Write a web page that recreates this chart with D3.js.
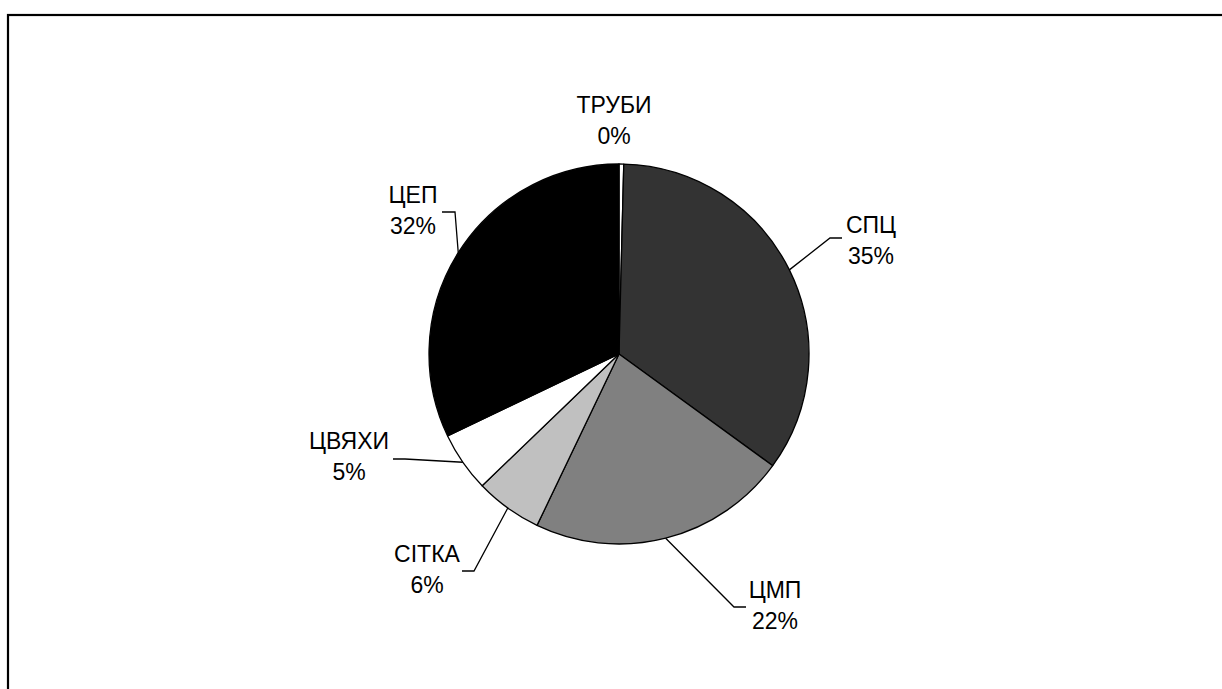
<!DOCTYPE html>
<html>
<head>
<meta charset="utf-8">
<script src="https://cdn.jsdelivr.net/npm/d3@7"></script>
<style>
  html, body { margin: 0; padding: 0; background: #fff; overflow: hidden; }
  svg { display: block; }
  text { font-family: "Liberation Sans", Arial, sans-serif; font-size: 23px; fill: #000; }
</style>
</head>
<body>
<svg id="chart" width="1222" height="689"></svg>
<script>
// Production share by shop, clockwise from 12 o'clock
const categories = ["ТРУБИ", "СПЦ", "ЦМП", "СІТКА", "ЦВЯХИ", "ЦЕП"];
const shares     = [0.4, 34.6, 22.1, 5.7, 5.1, 32.1];
const fills      = ["#ffffff", "#333333", "#808080", "#c0c0c0", "#ffffff", "#000000"];

// Label placement relative to the pie centre: text centre x, first baseline y,
// and the leader elbow / end (null = no leader line)
const labelLayout = [
  { x: -5,   y: -241, elbow: null,        end: null },
  { x: 252,  y: -121, elbow: [211, -116], end: [223, -116] },
  { x: 156,  y: 244,  elbow: [115, 253],  end: [127, 253] },
  { x: -192, y: 208,  elbow: [-145, 217], end: [-157, 217] },
  { x: -270, y: 95,   elbow: [-214, 105], end: [-226, 105] },
  { x: -206, y: -151, elbow: [-164, -142],end: [-177, -142] }
];

const cx = 619, cy = 354, radius = 190, lineGap = 31;

const svg = d3.select("#chart");

// Outer chart frame (runs past the right and bottom edges of the view)
svg.append("rect")
  .attr("x", 8).attr("y", 15)
  .attr("width", 1240).attr("height", 700)
  .attr("fill", "none").attr("stroke", "#000").attr("stroke-width", 2.2);

const data = categories.map((c, i) => ({ name: c, value: shares[i], fill: fills[i], layout: labelLayout[i] }));
const total = d3.sum(shares);

const pie = d3.pie().value(d => d.value).sort(null);
const arc = d3.arc().innerRadius(0).outerRadius(radius);
const arcs = pie(data);

const g = svg.append("g").attr("transform", `translate(${cx},${cy})`);

g.selectAll("path.slice")
  .data(arcs)
  .join("path")
  .attr("class", "slice")
  .attr("d", arc)
  .attr("fill", d => d.data.fill)
  .attr("stroke", "#000")
  .attr("stroke-width", 1.3)
  .attr("stroke-linejoin", "round");

// Leader lines from the slice edge to the label
g.selectAll("polyline.leader")
  .data(arcs.filter(d => d.data.layout.elbow))
  .join("polyline")
  .attr("class", "leader")
  .attr("fill", "none")
  .attr("stroke", "#000")
  .attr("stroke-width", 1.3)
  .attr("points", d => {
    const mid = (d.startAngle + d.endAngle) / 2;
    const p0 = [radius * Math.sin(mid), -radius * Math.cos(mid)];
    return [p0, d.data.layout.elbow, d.data.layout.end].map(p => p.join(",")).join(" ");
  });

const labels = g.selectAll("text.label")
  .data(arcs)
  .join("text")
  .attr("class", "label")
  .attr("text-anchor", "middle")
  .attr("x", d => d.data.layout.x)
  .attr("y", d => d.data.layout.y);

labels.append("tspan")
  .attr("x", d => d.data.layout.x)
  .text(d => d.data.name);

labels.append("tspan")
  .attr("x", d => d.data.layout.x)
  .attr("dy", lineGap)
  .text(d => Math.round(d.data.value / total * 100) + "%");
</script>
</body>
</html>
